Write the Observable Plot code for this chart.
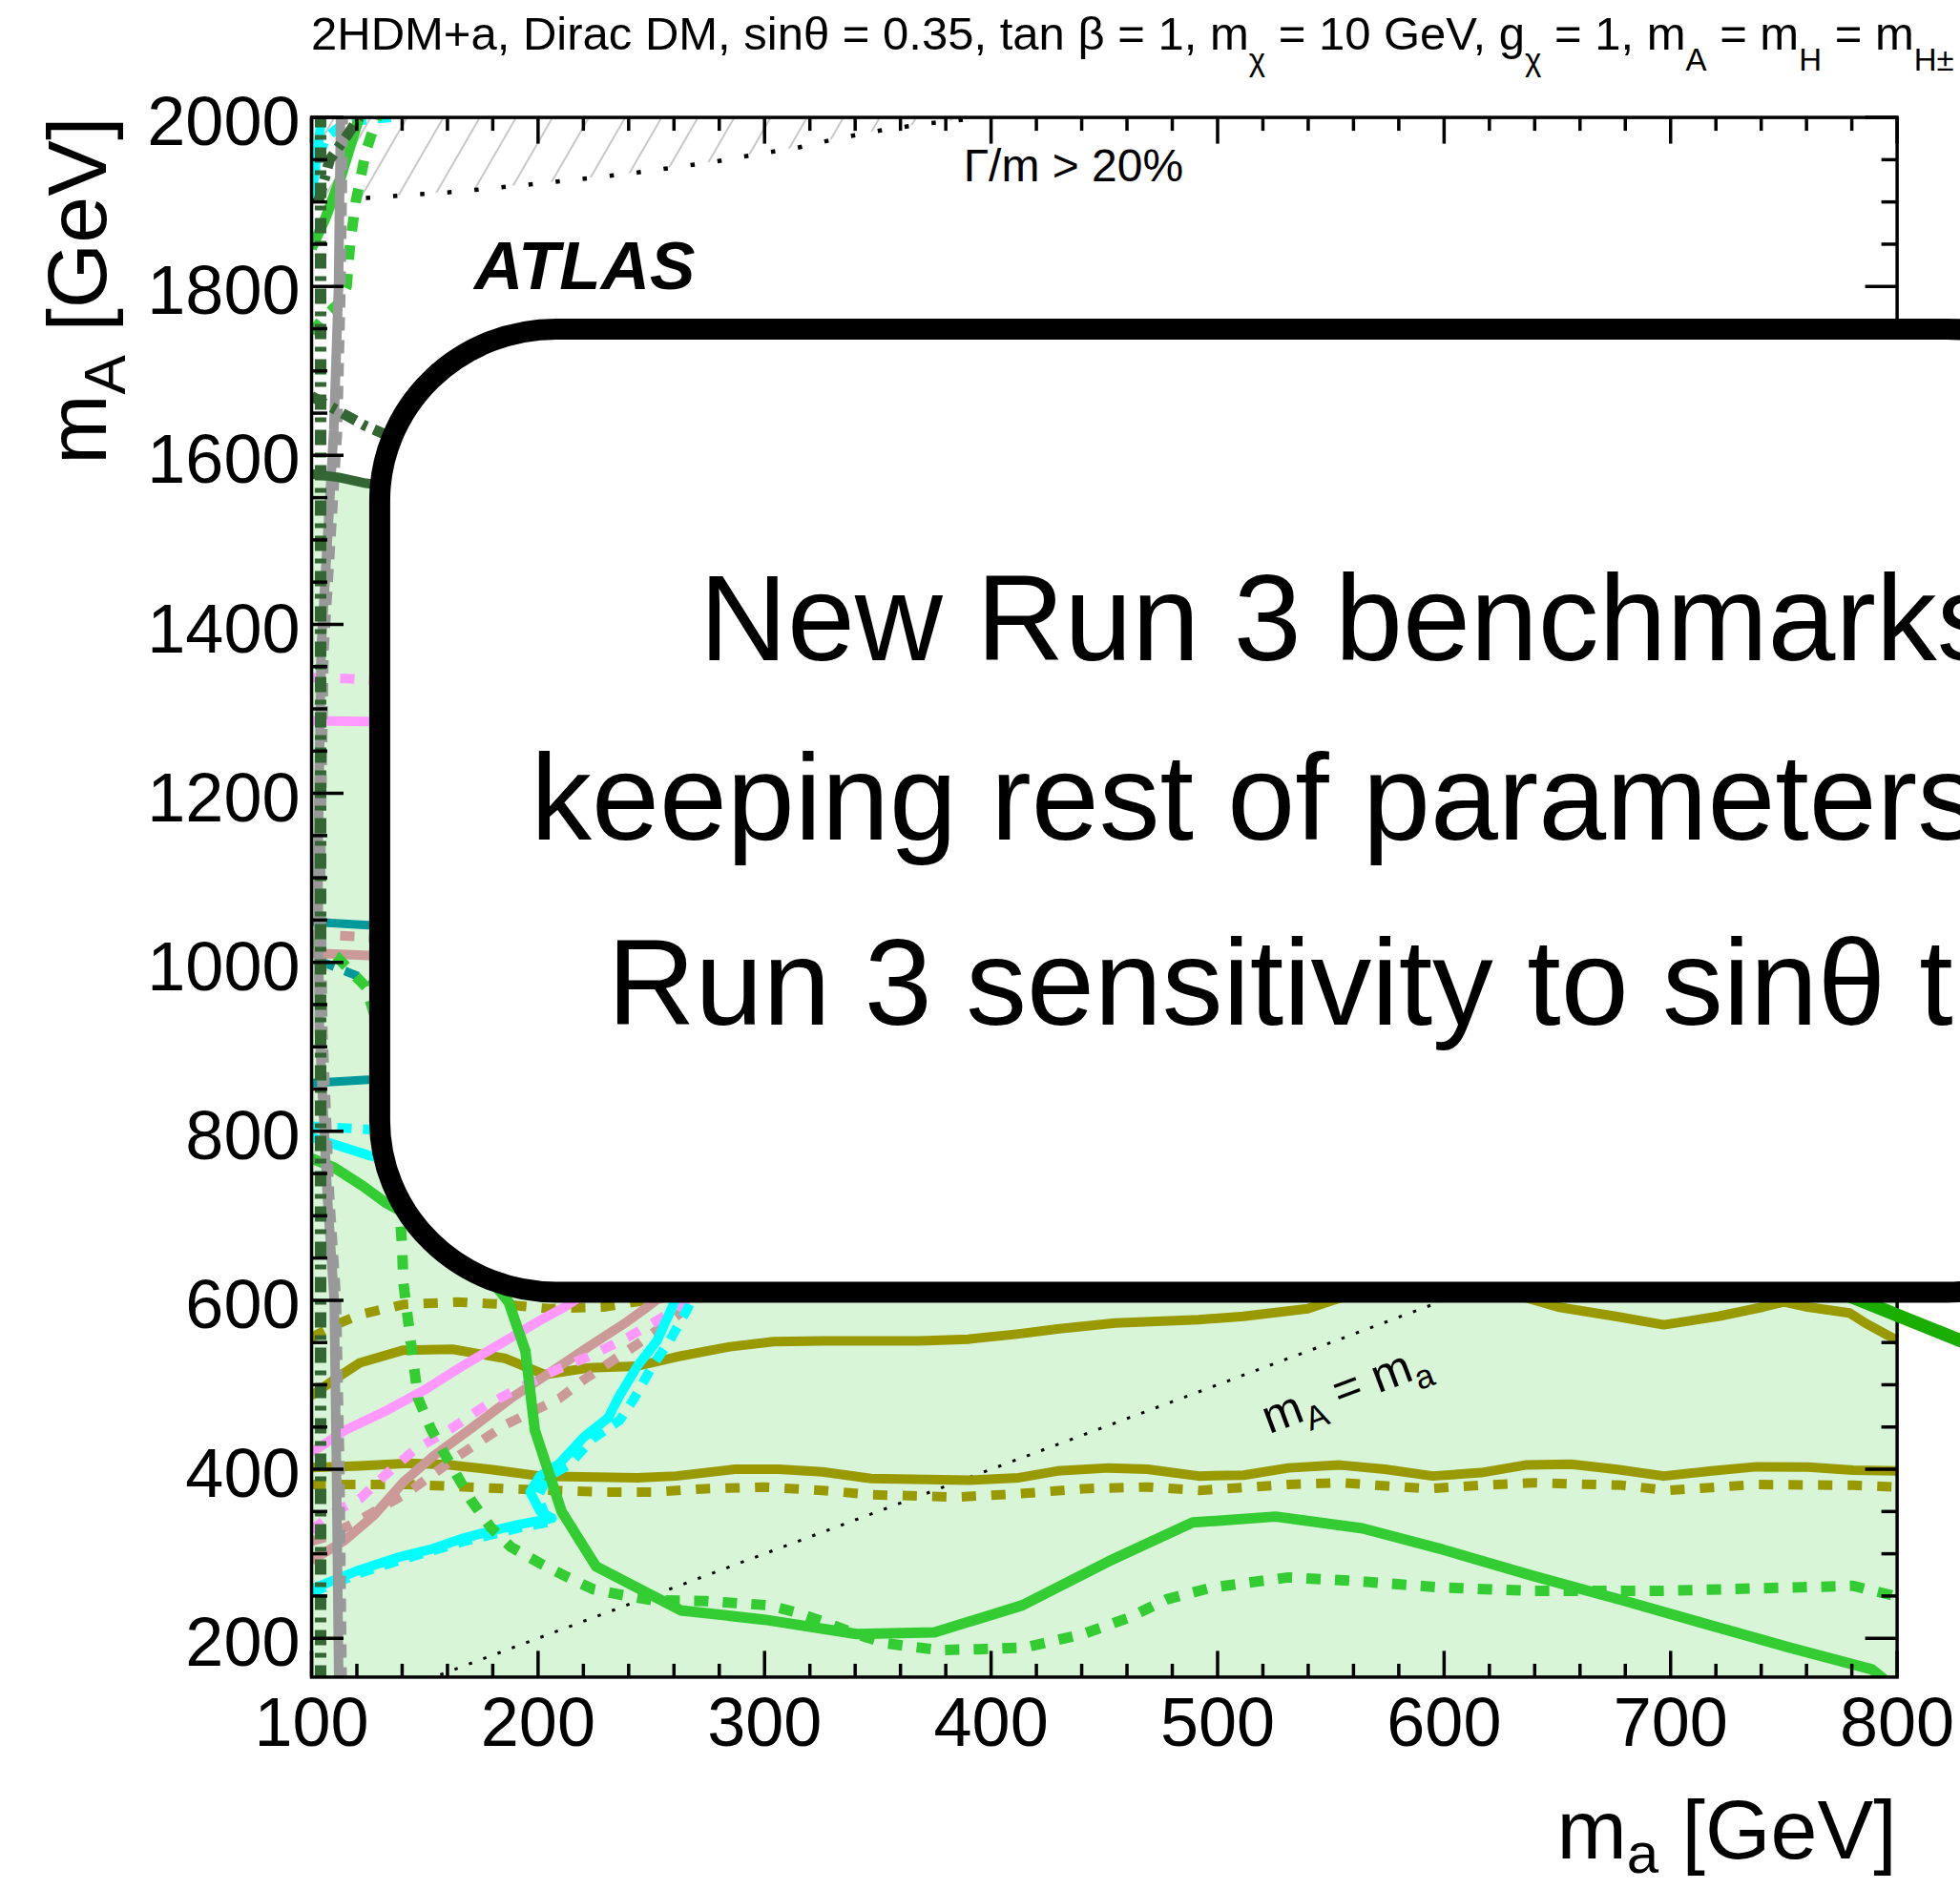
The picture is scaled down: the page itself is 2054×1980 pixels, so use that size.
<!DOCTYPE html>
<html>
<head>
<meta charset="utf-8">
<script src="https://cdn.jsdelivr.net/npm/d3@7"></script>
<script src="https://cdn.jsdelivr.net/npm/@observablehq/plot@0.6"></script>
<style>
  html, body { margin: 0; padding: 0; background: #fff; overflow: hidden; }
  #chart { width: 2054px; height: 1980px; overflow: hidden; }
  svg text { white-space: pre; }
</style>
</head>
<body>
<div id="chart"></div>
<script>
const FONT = "'Liberation Sans', Arial, Helvetica, sans-serif";

// ---------- axes ----------
const xDomain = [100, 800];
const yDomain = [154, 2000];
const xMajor = [100, 200, 300, 400, 500, 600, 700, 800];
const xMinor = d3.range(120, 800, 20).filter(v => v % 100 !== 0);
const yMajor = [200, 400, 600, 800, 1000, 1200, 1400, 1600, 1800, 2000];
const yMinor = d3.range(200, 2000, 50).filter(v => v % 200 !== 0);

// ---------- regions ----------
// upper edge of the excluded (light green) region
const excludedTop = [[100,1578],[112,1574],[124,1567],[145,1560],[800,1560]];
// Gamma/m > 20% boundary (dotted); hatched above
const widthBoundary = [[100,1902],[126,1905],[163.6,1912],[201.3,1922],[239,1933],[276.6,1947],[295.5,1956],[314.3,1964],[333,1975.5],[352,1985],[370.8,1992.5],[383.6,1996],[395,2000]];
// m_A = m_a
const diagonal = [[100,100],[800,800]];

// ---------- contours ----------
const limeSolidLow = [[100,768],[110,757],[122.8,735],[132.4,716],[150,690],[170,655],[187,598],[194.4,540],[198.6,446],[210.4,350],[225.6,285],[263,233],[299.8,222],[340.6,205],[375,207],[413.8,239],[451.9,291],[489,337],[525.6,344],[564,330],[599.4,305],[639,274],[678.6,245],[712.8,219],[752.4,189],[789,163],[795,150]];
const limeSolidTop = [[100,1845],[106,1880],[113,1930],[121,2000],[123,2010]];
const limeDashLow = [[100,1025],[111,1007],[124,971],[132,900],[137,780],[140,663],[140.5,621],[147,484],[152.5,449],[157.7,423],[164.3,392],[170.8,362],[179.2,331],[188,308],[200.7,289],[211.7,274],[224.3,258],[237.4,251],[250.3,245],[274,244],[302,239],[314.8,230],[325.5,220],[340.6,205],[353.5,194],[377,186],[394.4,187],[415,189],[440.7,205],[460.5,224],[477.5,246],[497.3,260],[531.3,272],[559.6,268],[599.3,260],[639,256],[695.6,256],[738,259],[780.6,262],[797.5,251],[802,247]];
const limeDashTop = [[100,1745],[106,1765],[112,1780],[115.5,1800],[117,1850],[119.5,1900],[124,1960],[129,2000],[131,2010]];

const oliveSolidHigh = [[99.8,487],[110.5,507],[121.3,526],[140.6,541],[162.2,542],[185.8,531],[203,512],[222.2,520],[243.7,522],[261,533],[284.6,545],[304,551],[325.5,552],[368.4,552],[390,554],[411.4,560],[429.3,566],[454.8,573],[491.7,577],[511.5,581],[539.8,590],[560,608],[600,620],[630,608],[650.3,592],[675.7,581],[697,571],[721,581],[740.8,592],[750,598],[760.6,592],[779,585],[786,573],[799,554],[802,550]];
const oliveDashHigh = [[100,556],[110.5,571],[121.3,583],[140.6,595],[164.3,598],[185.8,595],[205,590],[228.8,592],[260,605],[300,612],[500,620],[800,620]];
const oliveSolidLow = [[100,402],[121.3,404],[142.8,407],[160,405.5],[181.5,399],[200.8,392],[243.8,390],[261,392],[286.9,400],[306.2,400],[325.5,397],[347,389],[390,387],[412.3,390],[429.3,398],[452,401.6],[469,400],[491.7,392],[511.5,393],[531.3,401.6],[554,405],[573.8,400],[595,392],[616.3,396],[636,405],[656,406],[675.7,400],[697,392],[718.2,398],[738,403],[760.7,402.6],[780.6,399],[800,398]];
const oliveDashLow = [[100,382],[142.8,382],[185.8,377],[228.8,373],[250.3,373],[274,377],[299.8,379],[325.5,375],[347,370],[384,367],[412.3,371],[440.7,377],[469,379],[491.7,375],[531.3,382],[554,384],[576.6,380],[593.5,377],[616.3,381],[639,384],[678.6,381],[698.4,375],[738,382],[780.6,381],[800,379]];

const pinkSolidLow = [[100,420],[114.7,446],[132,468],[149.3,493],[166.5,522],[183.7,549],[200.8,576],[211.6,592],[225,615]];
const pinkSolidTop = [[100,1286],[125,1285],[145,1283]];
const pinkDashLow = [[100,328],[110.5,350],[121.3,365],[132,392],[145,422],[162.2,449],[177,476],[188,491],[205,514],[222.3,533.5],[239.5,556],[252.5,576],[261,590.5],[270,610]];
const pinkDashTop = [[100,1337],[115,1336],[125,1334],[145,1330]];

const rosySolidLow = [[100,292],[114.7,316],[127.7,346],[140.6,385],[153.5,415],[170.8,449],[188,484],[205,514],[222.3,545],[239.5,575],[248.2,592],[258,612]];
const rosySolidTop = [[100,1011],[125,1008],[145,1005]];
const rosyDashLow = [[100,315],[106.2,319.5],[121.3,340],[142.8,373],[164.3,415],[185.8,453],[209.5,484],[220.2,506],[243.8,548],[258,575],[270,600],[278,615]];
const rosyDashTop = [[100,1033],[125,1030],[145,1027]];

const cyanSolidLow = [[100,258],[121.3,281],[138.5,296],[153.5,306],[166.5,318],[179.4,327],[192.3,335],[206.2,342],[201,350],[196.5,373],[200.8,392],[209.5,407],[220.2,438],[231,461],[235.3,484],[243.8,522],[252.5,552],[259,590.5],[263,615]];
const cyanDashLow = [[100,254],[121.3,277],[138.5,292],[166.5,314],[192.3,331],[206,338],[203,346],[200,368],[204,390],[214,406],[224,436],[236,458],[242,482],[250,520],[258,552],[266,590],[270,615]];
const cyanSolidMid = [[100,793],[126,771],[145,758]];
const cyanDashMid = [[100,806],[120,803],[145,799]];
const cyanSolidTop = [[100,1905],[102,1950],[104.5,2000]];
const cyanDashTop = [[100,1925],[106,1975],[115,1995],[135,2000]];

const tealSolidHigh = [[100,1048],[125,1044],[145,1040]];
const tealSolidLow = [[100,857],[125,861],[145,862]];
const tealDash = [[104,1000],[107,998],[122,982],[140,965]];

const darkSolid = [[100,1578],[112,1574],[124,1567],[145,1560]];
const darkDashDiag = [[100,1670],[123,1636],[145,1610]];
const darkDashVert = [[104,150],[104,2000]];
const darkDashTop = [[103,1900],[108,1950],[116,1980],[121,2000]];

const graySolid = [[112,150],[111,400],[110,600],[107,722],[103.5,917],[102.8,1111],[104.2,1370],[107,1500],[109.8,1630],[111.9,1800],[112.8,2000]];
const grayDash = [[113.5,150],[112.5,400],[111,600],[108,722],[105,917],[104,1111],[105.5,1370],[108.5,1500],[111.5,1630],[113,1800],[114,2000]];

// line leaving the plot on the right, below the overlay box
const rightGreen = [[770,615],[830,550]];

// ---------- annotations (data coordinates) ----------
const overlayBox = [{x1: 130.3, x2: 900, y1: 609, y2: 1749}];
const overlayLines = [
  {x: 271.2, y: 1358, text: "New Run 3 benchmarks"},
  {x: 196.8, y: 1145.5, text: "keeping rest of parameters"},
  {x: 230.6, y: 926.5, text: "Run 3 sensitivity to sinθ t"}
];
const atlasLabel = [{x: 171.8, y: 1797, text: "ATLAS"}];
const widthLabel = [{x: 387.8, y: 1924, text: "Γ/m > 20%"}];
const diagLabel = {x: 557, y: 492};

const titleParts = [["2HDM+a, Dirac DM, sinθ = 0.35, tan β = 1, m"],["χ",1],[" = 10 GeV, g"],["χ",1],[" = 1, m"],["A",1],[" = m"],["H",1],[" = m"],["H±",1]];
const xTitleParts = [["m"],["a",1],[" [GeV]"]];
const yTitleParts = [["m"],["A",1],[" [GeV]"]];
const diagParts = [["m"],["A",1],[" = m"],["a",1]];

// ---------- colours ----------
const C = {
  fill: "#d8f5d8", lime: "#33cc33", olive: "#999900", pink: "#ff99ff", rosy: "#cc9999",
  cyan: "#00ffff", teal: "#009999", dark: "#336633", gray: "#999999", legendGreen: "#1aaf00"
};

const pts = a => a.map(([x, y]) => ({x, y}));

function curve(data, stroke, width, dash) {
  return Plot.line(pts(data), {
    x: "x", y: "y", stroke, strokeWidth: width,
    strokeDasharray: dash, strokeLinecap: "butt", strokeLinejoin: "round",
    curve: "linear", clip: "frame"
  });
}

function richText({parts, at, fontSize, subSize, subShift, anchor = "start", rotate = 0, baselineDy = 0}) {
  return (index, scales, values, dims) => {
    const [px, py] = at(scales, dims);
    const g = d3.create("svg:g").attr("transform", `translate(${px},${py}) rotate(${rotate})`);
    const t = g.append("text")
      .attr("text-anchor", anchor).attr("y", baselineDy)
      .attr("font-family", FONT).attr("font-size", fontSize)
      .attr("fill", "black").style("white-space", "pre");
    let shifted = false;
    for (const [s, sub] of parts) {
      const ts = t.append("tspan").text(s);
      if (sub) {
        ts.attr("font-size", subSize);
        if (!shifted) { ts.attr("dy", subShift); shifted = true; }
      } else if (shifted) {
        ts.attr("dy", -subShift); shifted = false;
      }
    }
    return g.node();
  };
}

function hatchDefs() {
  return () => {
    const g = d3.create("svg:g");
    const p = g.append("defs").append("pattern")
      .attr("id", "hatch").attr("patternUnits", "userSpaceOnUse")
      .attr("width", 33).attr("height", 40)
      .attr("patternTransform", "rotate(30)");
    p.append("line").attr("x1", 2).attr("y1", 0).attr("x2", 2).attr("y2", 40)
      .attr("stroke", "#b0b0b0").attr("stroke-width", 1.4);
    return g.node();
  };
}

const plot = Plot.plot({
  width: 2054,
  height: 1980,
  marginLeft: 326,
  marginRight: 66.4,
  marginTop: 122.6,
  marginBottom: 222.6,
  style: {fontFamily: FONT, background: "white", color: "black"},
  x: {domain: xDomain},
  y: {domain: yDomain},
  marks: [
    hatchDefs(),
    // excluded region
    Plot.areaY(excludedTop.map(([x, y]) => ({x, y1: yDomain[0], y2: y})),
      {x: "x", y1: "y1", y2: "y2", fill: C.fill, clip: "frame", curve: "linear"}),
    // Gamma/m hatched region
    Plot.areaY(widthBoundary.map(([x, y]) => ({x, y1: y, y2: yDomain[1]})),
      {x: "x", y1: "y1", y2: "y2", fill: "url(#hatch)", clip: "frame", curve: "linear"}),
    curve(widthBoundary, "black", 4.5, "4.5,24"),
    curve(diagonal, "black", 3, "3.5,12.5"),

    // contours
    curve(oliveDashHigh, C.olive, 10, "15,16"),
    curve(oliveSolidHigh, C.olive, 10),
    curve(oliveDashLow, C.olive, 10, "15,16"),
    curve(oliveSolidLow, C.olive, 10),
    curve(pinkDashTop, C.pink, 10, "15,15"),
    curve(pinkSolidTop, C.pink, 10),
    curve(rosyDashTop, C.rosy, 10, "15,15"),
    curve(rosySolidTop, C.rosy, 10),
    curve(rosyDashLow, C.rosy, 10, "15,15"),
    curve(rosySolidLow, C.rosy, 10),
    curve(pinkDashLow, C.pink, 10, "15,15"),
    curve(pinkSolidLow, C.pink, 10),
    curve(cyanDashLow, C.cyan, 10, "15,12"),
    curve(cyanSolidLow, C.cyan, 10),
    curve(cyanDashMid, C.cyan, 10, "15,12"),
    curve(cyanSolidMid, C.cyan, 10),
    curve(cyanDashTop, C.cyan, 10, "15,12"),
    curve(cyanSolidTop, C.cyan, 10),
    curve(tealSolidHigh, C.teal, 9),
    curve(tealSolidLow, C.teal, 9),
    curve(tealDash, C.teal, 9, "15,12"),
    curve(limeDashLow, C.lime, 11, "15,15"),
    curve(limeDashTop, C.lime, 11, "15,15"),
    curve(limeSolidLow, C.lime, 11),
    curve(limeSolidTop, C.lime, 11),
    curve(grayDash, C.gray, 10, "14,10"),
    curve(graySolid, C.gray, 10),
    curve(darkDashVert, C.dark, 12, "16,8,5,8"),
    curve(darkDashDiag, C.dark, 11, "16,8,5,8"),
    curve(darkDashTop, C.dark, 11, "16,8,5,8"),
    curve(darkSolid, C.dark, 10),

    // frame and inward ticks
    Plot.frame({stroke: "black", strokeWidth: 3.5}),
    Plot.axisX({ticks: xMajor, anchor: "bottom", tickSize: 27, dy: -27, fill: "none", strokeWidth: 3.5}),
    Plot.axisX({ticks: xMinor, anchor: "bottom", tickSize: 13.5, dy: -13.5, fill: "none", strokeWidth: 3.5}),
    Plot.axisX({ticks: xMajor, anchor: "top", tickSize: 27, dy: 27, fill: "none", strokeWidth: 3.5}),
    Plot.axisX({ticks: xMinor, anchor: "top", tickSize: 13.5, dy: 13.5, fill: "none", strokeWidth: 3.5}),
    Plot.axisY({ticks: yMajor, anchor: "left", tickSize: 34, dx: 34, fill: "none", strokeWidth: 3.5}),
    Plot.axisY({ticks: yMinor, anchor: "left", tickSize: 17, dx: 17, fill: "none", strokeWidth: 3.5}),
    Plot.axisY({ticks: yMajor, anchor: "right", tickSize: 34, dx: -34, fill: "none", strokeWidth: 3.5}),
    Plot.axisY({ticks: yMinor, anchor: "right", tickSize: 17, dx: -17, fill: "none", strokeWidth: 3.5}),
    // tick labels
    Plot.axisX({ticks: xMajor, anchor: "bottom", tickSize: 0, tickPadding: 21, fontSize: 72,
      tickFormat: d => String(d), label: null}),
    Plot.axisY({ticks: yMajor, anchor: "left", tickSize: 0, tickPadding: 12, fontSize: 72, dy: 6,
      tickFormat: d => String(d), label: null}),

    // green line leaving the frame on the right
    Plot.line(pts(rightGreen), {x: "x", y: "y", stroke: C.legendGreen, strokeWidth: 14, clip: false}),

    // overlay box
    Plot.rect(overlayBox, {x1: "x1", x2: "x2", y1: "y1", y2: "y2", fill: "white", stroke: "black",
      strokeWidth: 22, rx: 185, ry: 180, clip: false}),
    Plot.text(overlayLines, {x: "x", y: "y", text: "text", textAnchor: "start", lineAnchor: "bottom",
      fontSize: 127.5, fill: "black", clip: false}),

    // labels
    Plot.text(atlasLabel, {x: "x", y: "y", text: "text", textAnchor: "start", lineAnchor: "bottom",
      fontSize: 71, fontWeight: "bold", fontStyle: "italic", fill: "black"}),
    Plot.text(widthLabel, {x: "x", y: "y", text: "text", textAnchor: "start", lineAnchor: "bottom",
      fontSize: 48, fill: "black"}),
    richText({parts: diagParts, fontSize: 50, subSize: 35, subShift: 12, anchor: "middle",
      rotate: -20.5, baselineDy: 14,
      at: (s) => [s.x(diagLabel.x), s.y(diagLabel.y)]}),

    // titles
    richText({parts: titleParts, fontSize: 49, subSize: 33, subShift: 22, anchor: "start",
      at: (s, d) => [d.marginLeft, 52]}),
    richText({parts: xTitleParts, fontSize: 88, subSize: 60, subShift: 15, anchor: "end",
      at: (s, d) => [d.width - d.marginRight, 1948]}),
    richText({parts: yTitleParts, fontSize: 88, subSize: 62, subShift: 20, anchor: "end",
      rotate: -90, at: (s, d) => [111, d.marginTop]})
  ]
});

document.getElementById("chart").appendChild(plot);
</script>
</body>
</html>
